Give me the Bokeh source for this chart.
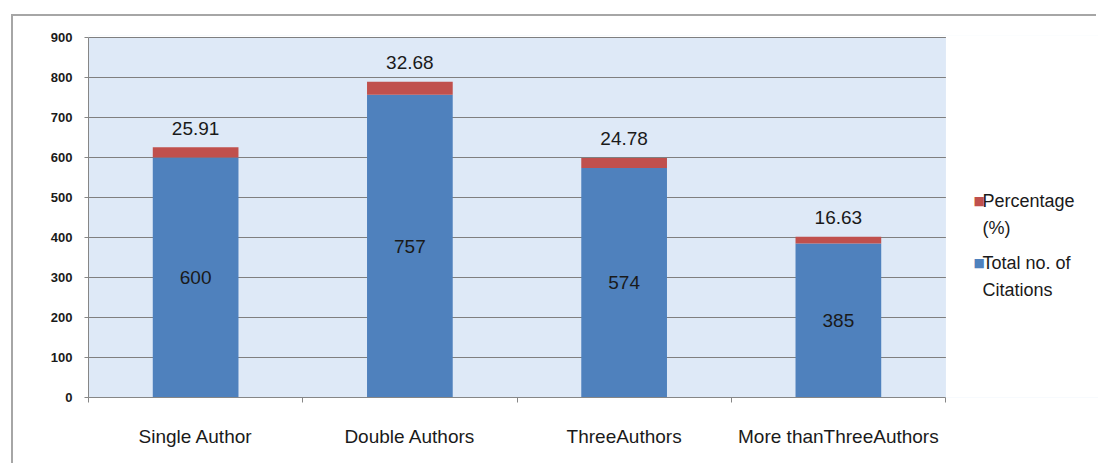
from bokeh.plotting import figure
from bokeh.models import Range1d, FixedTicker, ColumnDataSource, Label
from bokeh.core.properties import value
from bokeh.embed import file_html
from bokeh.resources import INLINE

# Citation counts by authorship pattern
categories = ["Single Author", "Double Authors", "ThreeAuthors", "More thanThreeAuthors"]
citations = [600, 757, 574, 385]
percentage = [25.91, 32.68, 24.78, 16.63]
y_ticks = [0, 100, 200, 300, 400, 500, 600, 700, 800, 900]

BLUE = "#4f81bd"
RED = "#c0504d"
FONT = "Liberation Sans"
TEXT = "#1a1a1a"
N = len(categories)
Y_MAX = y_ticks[-1]
Y_PAD = 5  # a couple of pixels above the top grid line

# chart area sits inside a thin grey frame drawn along its left and top edges
OX, OY = 13, 16
W, H = 1098 - OX, 465 - OY
LEFT, TOP, BOTTOM, PLOT_RIGHT = 88 - OX, 35 - OY, H - (397 - OY), 945 - OX
# the frame runs on to the right edge so the legend lives inside it
cat_px = (PLOT_RIGHT - LEFT) / N
x_end = (W - LEFT) / cat_px

p = figure(width=W, height=H, output_backend="svg", toolbar_location=None,
           x_range=Range1d(0, x_end), y_range=Range1d(0, Y_MAX + Y_PAD),
           min_border_left=LEFT, min_border_right=0,
           min_border_top=TOP, min_border_bottom=BOTTOM)
p.margin = (OY, 0, 0, OX)
p.styles = {"box-shadow": "-2px -2px 0 0 #a6a6a6"}
p.background_fill_color = "#dee9f7"
p.border_fill_color = "white"
p.outline_line_color = None

# white strips: right of the plot area (legend space) and above the top grid line
p.quad(left=[N + 0.002], right=[x_end + 0.1], bottom=[-20], top=[Y_MAX + 50],
       fill_color="white", line_color=None)
p.quad(left=[-0.1], right=[x_end + 0.1], bottom=[Y_MAX + 1.5], top=[Y_MAX + 50],
       fill_color="white", line_color=None)

xs = [i + 0.5 for i in range(N)]
tops = [c + q for c, q in zip(citations, percentage)]
src = ColumnDataSource(dict(
    x=xs, cit=citations, pct=percentage, top=tops,
    mid=[c / 2 for c in citations],
    cit_txt=[str(c) for c in citations],
    pct_txt=["%.2f" % q for q in percentage],
))

# stacked bars
p.vbar(x="x", width=0.4, bottom=0, top="cit", source=src,
       fill_color=BLUE, line_color=None)
p.vbar(x="x", width=0.4, bottom="cit", top="top", source=src,
       fill_color=RED, line_color=None)

# value labels
p.text(x="x", y="mid", text="cit_txt", source=src, text_align="center",
       text_baseline="middle", text_font=value(FONT), text_font_size="19px",
       text_color=TEXT)
p.text(x="x", y="top", text="pct_txt", source=src, text_align="center",
       text_baseline="middle", y_offset=-19, text_font=value(FONT),
       text_font_size="19px", text_color=TEXT)

# y axis
p.yaxis.bounds = (0, Y_MAX)
p.yaxis.ticker = FixedTicker(ticks=y_ticks)
p.yaxis.axis_line_color = "#868686"
p.yaxis.major_tick_line_color = "#868686"
p.yaxis.major_tick_out = 4
p.yaxis.major_tick_in = 0
p.yaxis.minor_tick_line_color = None
p.yaxis.major_label_text_font = FONT
p.yaxis.major_label_text_font_size = "13px"
p.yaxis.major_label_text_font_style = "bold"
p.yaxis.major_label_text_color = TEXT
p.yaxis.major_label_standoff = 12

# x axis: category labels at centres, tick marks at boundaries
p.xaxis.bounds = (0, N)
p.xaxis.ticker = FixedTicker(ticks=xs, minor_ticks=list(range(N + 1)))
p.xaxis.major_label_overrides = {x: c for x, c in zip(xs, categories)}
p.xaxis.major_tick_line_color = None
p.xaxis.minor_tick_line_color = "#868686"
p.xaxis.minor_tick_out = 5
p.xaxis.minor_tick_in = 0
p.xaxis.axis_line_color = "#868686"
p.xaxis.major_label_text_font = FONT
p.xaxis.major_label_text_font_size = "19px"
p.xaxis.major_label_text_color = TEXT
p.xaxis.major_label_standoff = 22

p.xgrid.grid_line_color = None
p.ygrid.ticker = FixedTicker(ticks=y_ticks[1:])
p.ygrid.grid_line_color = "#7f7f7f"
p.ygrid.grid_line_width = 1

# legend (pixels from the frame's lower-left corner)
legend_items = [(RED, ["Percentage", "(%)"], 197), (BLUE, ["Total no. of", "Citations"], 135)]
for color, lines, yc in legend_items:
    p.add_layout(Label(x=885, y=yc, x_units="screen", y_units="screen", text="\u25a0",
                       text_font="DejaVu Sans", text_font_size="12px",
                       text_color=color, text_baseline="middle"))
    for k, line in enumerate(lines):
        p.add_layout(Label(x=894, y=yc - 27 * k, x_units="screen", y_units="screen",
                           text=line, text_font=FONT, text_font_size="18px",
                           text_color=TEXT, text_baseline="middle"))

open("out.html", "w").write(file_html(p, INLINE))
